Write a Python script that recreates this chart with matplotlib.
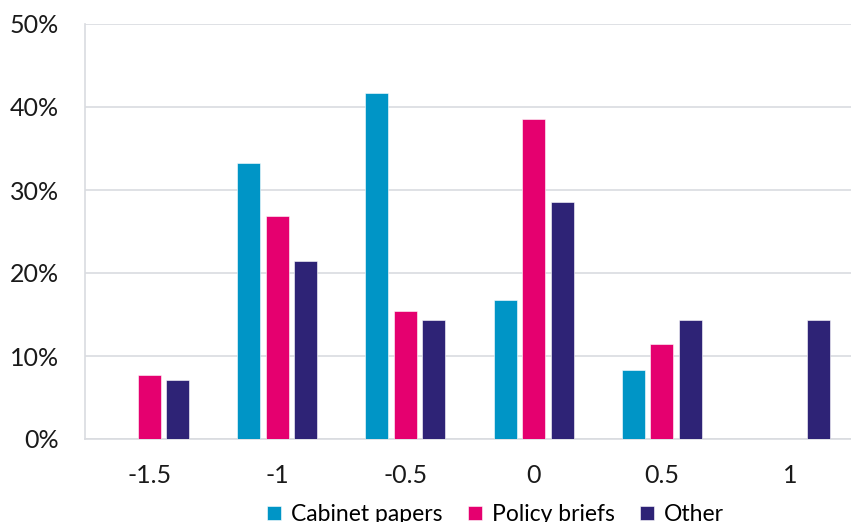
import numpy as np
import matplotlib
matplotlib.use("Agg")
import matplotlib.pyplot as plt
from matplotlib.ticker import PercentFormatter

plt.rcParams['font.family'] = ['Lato', 'DejaVu Sans']

# Share of documents per score
categories = ['-1.5', '-1', '-0.5', '0', '0.5', '1']
cabinet_papers = [0.0, 33.3, 41.7, 16.7, 8.3, 0.0]
policy_briefs = [7.7, 26.9, 15.4, 38.5, 11.5, 0.0]
other = [7.1, 21.4, 14.3, 28.6, 14.3, 14.3]

series = [('Cabinet papers', cabinet_papers, '#0095C6'),
          ('Policy briefs', policy_briefs, '#E5006F'),
          ('Other', other, '#2E2376')]

fig = plt.figure(figsize=(8.51, 5.22), dpi=100)
ax = fig.add_axes([85/851, 83/522, 769/851, 415/522])

x = np.arange(len(categories))
w, step = 0.18, 0.222
for i, (name, vals, col) in enumerate(series):
    ax.bar(x + (i - 1) * step, vals, width=w, color=col, label=name,
           edgecolor='white', linewidth=0.4, zorder=3)

ax.set_xlim(-0.5, len(categories) - 0.5)
ax.set_ylim(0, 50)
ax.set_yticks(np.arange(0, 51, 10))
ax.yaxis.set_major_formatter(PercentFormatter(decimals=0))
ax.set_xticks(x)
ax.set_xticklabels(categories)
ax.grid(axis='y', color='#D9DBE0', linewidth=1.2, zorder=0)
ax.tick_params(axis='both', length=0, labelsize=18, colors='#1a1a1a')
ax.tick_params(axis='x', pad=18)
ax.tick_params(axis='y', pad=19)
for s in ['top', 'right']:
    ax.spines[s].set_visible(False)
for s in ['left', 'bottom']:
    ax.spines[s].set_color('#D9DBE0')
    ax.spines[s].set_linewidth(1.2)

ax.legend(loc='upper center', bbox_to_anchor=(0.534, -0.118), ncol=3, frameon=False,
          fontsize=16.5, handlelength=0.6, handleheight=0.6, handletextpad=0.45,
          columnspacing=1.1, borderpad=0.2)

fig.savefig('out.png', dpi=100)
